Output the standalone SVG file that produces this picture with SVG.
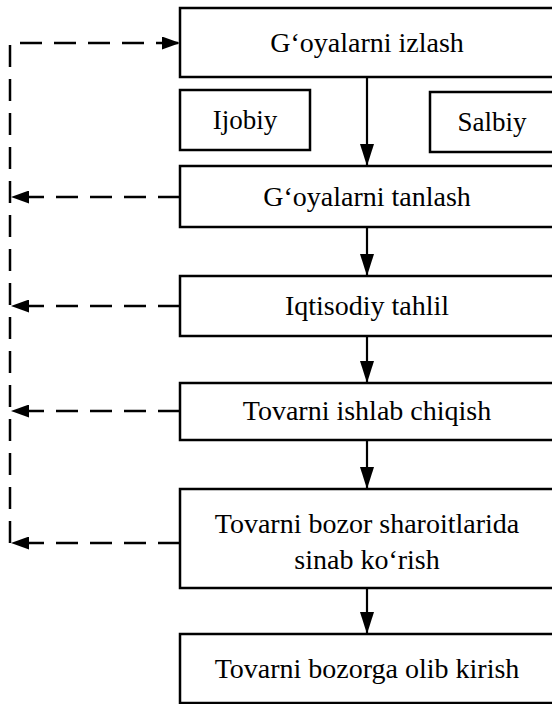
<svg xmlns="http://www.w3.org/2000/svg" width="552" height="704" viewBox="0 0 552 704">
<style>
.box{fill:#fff;stroke:#000;stroke-width:2.5}
.t{font-family:"Liberation Serif","Times New Roman",serif;font-size:28px;fill:#000;text-anchor:middle}
.s{font-size:27px}
.solid{stroke:#000;stroke-width:2.2;fill:none}
.dash{stroke:#000;stroke-width:2.5;fill:none;stroke-dasharray:22 12}
</style>
<defs>
<marker id="ah" viewBox="0 0 22 14" refX="22" refY="7" markerWidth="22" markerHeight="14" markerUnits="userSpaceOnUse" orient="auto">
<path d="M0,0 L22,7 L0,14 Z" fill="#000"/>
</marker>
<marker id="ahd" viewBox="0 0 18 13" refX="18" refY="6.5" markerWidth="18" markerHeight="13" markerUnits="userSpaceOnUse" orient="auto">
<path d="M0,0 L18,6.5 L0,13 Z" fill="#000"/>
</marker>
</defs>
<rect width="552" height="704" fill="#fff"/>
<g id="connectors">
<line class="solid" x1="367" y1="77" x2="367" y2="166" marker-end="url(#ah)"/>
<line class="solid" x1="367" y1="227" x2="367" y2="276" marker-end="url(#ah)"/>
<line class="solid" x1="367" y1="336" x2="367" y2="383" marker-end="url(#ah)"/>
<line class="solid" x1="367" y1="440" x2="367" y2="489" marker-end="url(#ah)"/>
<line class="solid" x1="367" y1="588" x2="367" y2="634" marker-end="url(#ah)"/>
<path class="dash" d="M10,543 L10,43 L180,43" marker-end="url(#ahd)"/>
<line class="dash" x1="180" y1="197" x2="11" y2="197" marker-end="url(#ahd)"/>
<line class="dash" x1="180" y1="306" x2="11" y2="306" marker-end="url(#ahd)"/>
<line class="dash" x1="180" y1="411" x2="11" y2="411" marker-end="url(#ahd)"/>
<line class="dash" x1="180" y1="543" x2="11" y2="543" marker-end="url(#ahd)"/>
</g>
<g id="n1"><rect class="box" x="180" y="8" width="390" height="69"/><text class="t" x="367" y="52">G‘oyalarni izlash</text></g>
<g id="ijobiy"><rect class="box" x="180" y="90" width="130" height="60"/><text class="t s" x="245" y="129">Ijobiy</text></g>
<g id="salbiy"><rect class="box" x="430" y="92" width="140" height="60"/><text class="t s" x="492" y="131">Salbiy</text></g>
<g id="n2"><rect class="box" x="180" y="166" width="390" height="61"/><text class="t" x="367" y="206">G‘oyalarni tanlash</text></g>
<g id="n3"><rect class="box" x="180" y="276" width="390" height="60"/><text class="t" x="367" y="315">Iqtisodiy tahlil</text></g>
<g id="n4"><rect class="box" x="180" y="383" width="390" height="57"/><text class="t" x="367" y="420">Tovarni ishlab chiqish</text></g>
<g id="n5"><rect class="box" x="180" y="489" width="390" height="99"/><text class="t" x="367" y="533">Tovarni bozor sharoitlarida</text><text class="t" x="367" y="569">sinab ko‘rish</text></g>
<g id="n6"><rect class="box" x="180" y="634" width="390" height="69"/><text class="t" x="367" y="678">Tovarni bozorga olib kirish</text></g>
</svg>
